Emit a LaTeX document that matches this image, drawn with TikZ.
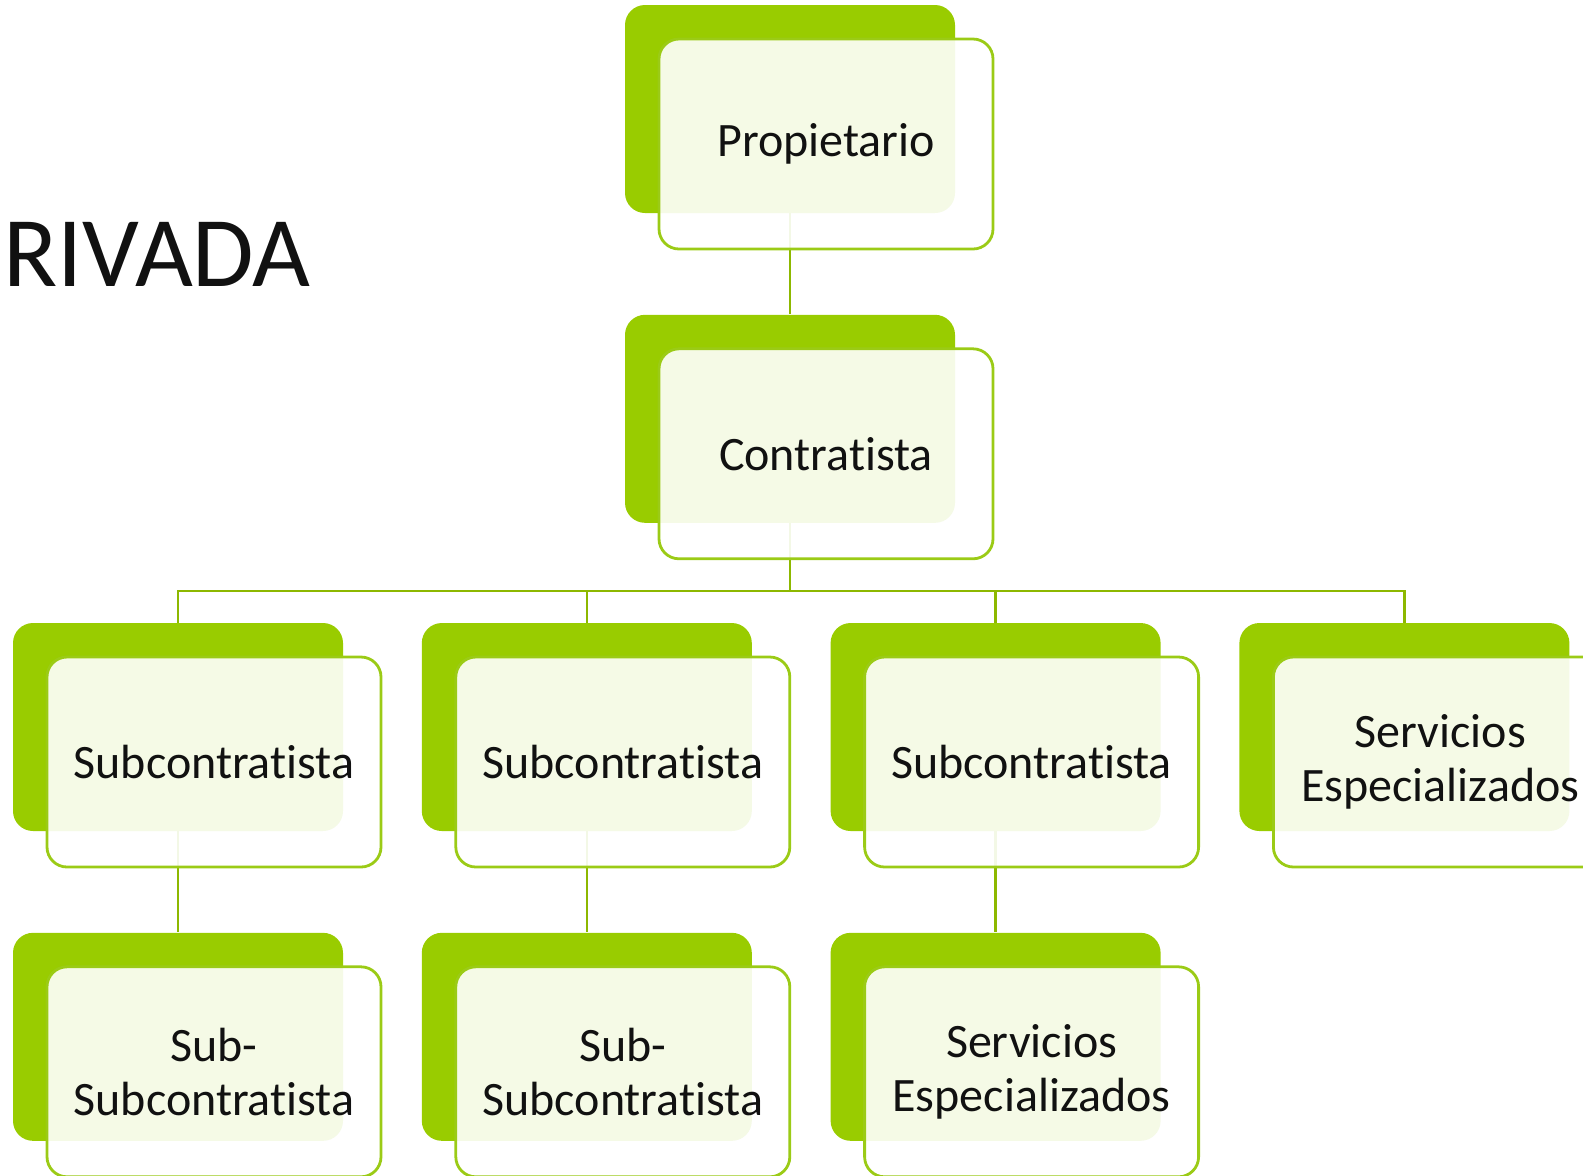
\documentclass[tikz,border=0pt]{standalone}
\usepackage{fontspec}
\setmainfont{Carlito}[Ligatures=NoCommon]
\usetikzlibrary{positioning}
\definecolor{leaf}{HTML}{99CC00}
\definecolor{leafline}{HTML}{9BCB16}
\definecolor{twig}{HTML}{8DB800}
\definecolor{ink}{HTML}{111111}

\begin{document}
\begin{tikzpicture}
[x=0.5pt, y=-0.5pt,
back/.style ={rectangle, fill=leaf, rounded corners=10pt, minimum width=165pt, minimum height=104pt, inner sep=0pt},
front/.style={rectangle, draw=leafline, line width=1.4pt, fill=white, fill opacity=0.9, text opacity=1, rounded corners=10pt, minimum width=167pt, minimum height=105pt, align=center, text=ink, font=\fontsize{24}{27}\selectfont, inner sep=0pt},
link/.style ={draw=twig, line width=1.2pt},
node distance=50.5pt and 39pt]

\useasboundingbox (0,0) rectangle (1583,1175);

\node[anchor=base west, text=ink, font=\fontsize{50}{60}\selectfont, inner sep=0pt] (title) at (3,286) {RIVADA};

% green boxes behind
\node[back] (prop) at (790,109) {};
\node[back, below=of prop] (contr) {};
\node[back] (sub1) at (178,727) {};
\node[back, right=of sub1] (sub2) {};
\node[back, right=of sub2] (sub3) {};
\node[back, right=of sub3] (serv1) {};
\node[back, below=of sub1] (ssub1) {};
\node[back, below=of sub2] (ssub2) {};
\node[back, below=of sub3] (serv2) {};

% connectors
\path[link] (prop) -- (contr);
\path[link] (contr.south) -- ++(0,68) -| (sub1.north);
\path[link] (contr.south) -- ++(0,68) -| (sub2.north);
\path[link] (contr.south) -- ++(0,68) -| (sub3.north);
\path[link] (contr.south) -- ++(0,68) -| (serv1.north);
\path[link] (sub1) -- (ssub1);
\path[link] (sub2) -- (ssub2);
\path[link] (sub3) -- (serv2);

% front boxes with text
\node[front] (propF) at ([shift={(36,35)}]prop.center) {Propietario};
\node[front] (contrF) at ([shift={(36,35)}]contr.center) {Contratista};
\node[front] (sub1F) at ([shift={(36,35)}]sub1.center) {Subcontratista};
\node[front] (sub2F) at ([shift={(36,35)}]sub2.center) {Subcontratista};
\node[front] (sub3F) at ([shift={(36,35)}]sub3.center) {Subcontratista};
\node[front] (serv1F) at ([shift={(36,35)}]serv1.center) {Servicios\\Especializados};
\node[front] (ssub1F) at ([shift={(36,35)}]ssub1.center) {Sub-\\Subcontratista};
\node[front] (ssub2F) at ([shift={(36,35)}]ssub2.center) {Sub-\\Subcontratista};
\node[front] (serv2F) at ([shift={(36,35)}]serv2.center) {Servicios\\Especializados};
\end{tikzpicture}
\end{document}
